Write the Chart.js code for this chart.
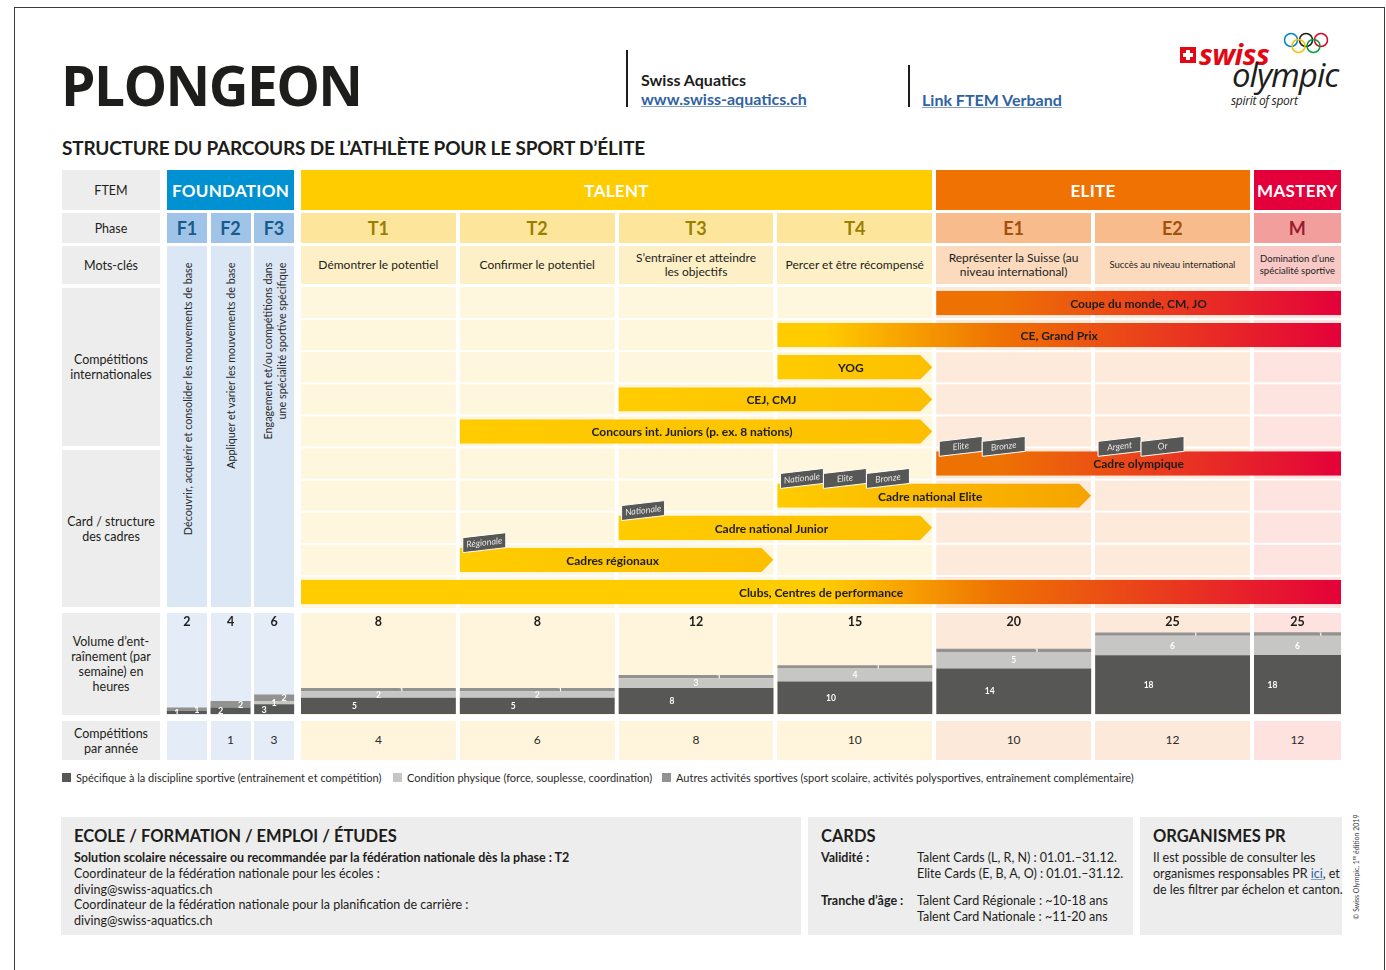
<!DOCTYPE html>
<html lang="fr">
<head>
<meta charset="utf-8">
<title>Plongeon – Structure du parcours de l’athlète</title>
<script src="https://cdn.jsdelivr.net/npm/chart.js@4.4.1/dist/chart.umd.min.js"></script>
<style>
    html, body { margin: 0; padding: 0; background: #fff; }
    body { font-family: Lato, "Open Sans", sans-serif; color: #1d1d1b; }
    #page { position: relative; width: 1386px; height: 970px; overflow: hidden; }
    .abs { position: absolute; box-sizing: border-box; }
    .cell { display: flex; align-items: center; justify-content: center; text-align: center; line-height: 1.2; }
    .narrow { font-family: "Liberation Sans Narrow", Lato, sans-serif; }
    canvas { position: absolute; }
    a { color: #2f62a3; text-decoration: underline; text-decoration-color: #7f9fcc; }
</style>
</head>
<body>
<div id="page">
    <div class="abs" style="left:14px;top:7px;width:1371px;height:990px;border:1px solid #3c3c3b;"></div>

    <div class="abs" style="left:61px;top:54px;height:60px;font:700 55px 'Open Sans';letter-spacing:-1.6px;display:flex;align-items:center;">PLONGEON</div>

    <div class="abs" style="left:626px;top:50px;width:2px;height:57px;background:#1d1d1b;"></div>
    <div class="abs" style="left:641px;top:70px;font:700 16px Lato;">Swiss Aquatics</div>
    <div class="abs" style="left:641px;top:89px;font:700 16px Lato;"><a>www.swiss-aquatics.ch</a></div>
    <div class="abs" style="left:908px;top:65px;width:2px;height:42px;background:#1d1d1b;"></div>
    <div class="abs" style="left:922px;top:90px;font:700 16px Lato;"><a>Link FTEM Verband</a></div>

    <!-- logo -->
    <div class="abs" style="left:1180px;top:47px;width:16px;height:16px;background:#e30613;"></div>
    <div class="abs" style="left:1186px;top:50px;width:4px;height:10px;background:#fff;"></div>
    <div class="abs" style="left:1183px;top:53px;width:10px;height:4px;background:#fff;"></div>
    <div class="abs" style="left:1199px;top:34px;font:italic 700 29px 'Open Sans';color:#e30613;letter-spacing:-0.5px;">swiss</div>
    <svg class="abs" style="left:1282px;top:31px;" width="48" height="24" viewBox="0 0 48 24">
        <circle cx="9" cy="9" r="6.5" fill="none" stroke="#0085c7" stroke-width="1.5"/>
        <circle cx="24" cy="9" r="6.5" fill="none" stroke="#1d1d1b" stroke-width="1.5"/>
        <circle cx="39" cy="9" r="6.5" fill="none" stroke="#df0024" stroke-width="1.5"/>
        <circle cx="16.5" cy="15" r="6.5" fill="none" stroke="#f4c300" stroke-width="1.5"/>
        <circle cx="31.5" cy="15" r="6.5" fill="none" stroke="#009f3d" stroke-width="1.5"/>
    </svg>
    <div class="abs" style="left:1232px;top:52px;font:italic 400 33px 'Open Sans';letter-spacing:-1px;">olympic</div>
    <div class="abs" style="left:1231px;top:92px;font:italic 400 12px 'Open Sans';letter-spacing:-0.3px;">spirit of sport</div>

    <div class="abs" style="left:62px;top:136px;font:700 19px Lato;letter-spacing:-0.2px;">STRUCTURE DU PARCOURS DE L’ATHLÈTE POUR LE SPORT D’ÉLITE</div>
</div>

<script>
// ---------- data ----------
const phases = ['F1', 'F2', 'F3', 'T1', 'T2', 'T3', 'T4', 'E1', 'E2', 'M'];
const stageNames = ['FOUNDATION', 'TALENT', 'ELITE', 'MASTERY'];
const foundationText = [
    'Découvrir, acquérir et consolider les mouvements de base',
    'Appliquer et varier les mouvements de base',
    'Engagement et/ou compétitions dans<br>une spécialité sportive spécifique'
];
const keywords = [
    'Démontrer le potentiel',
    'Confirmer le potentiel',
    'S’entraîner et atteindre<br>les objectifs',
    'Percer et être récompensé',
    'Représenter la Suisse (au<br>niveau international)',
    'Succès au niveau international',
    'Domination d’une<br>spécialité sportive'
];
// training hours per week, by component
const hoursSpecific = [1, 2, 3, 5, 5, 8, 10, 14, 18, 18];
const hoursPhysical = [0, 0, 1, 2, 2, 3, 4, 5, 6, 6];
const hoursOther = [1, 2, 2, 1, 1, 1, 1, 1, 1, 1];
const hoursTotal = [2, 4, 6, 8, 8, 12, 15, 20, 25, 25];
const competitionsPerYear = ['', 1, 3, 4, 6, 8, 10, 10, 12, 12];
const seriesLabels = [
    'Spécifique à la discipline sportive (entraînement et compétition)',
    'Condition physique (force, souplesse, coordination)',
    'Autres activités sportives (sport scolaire, activités polysportives, entraînement complémentaire)'
];
// competitions and squads: first and last phase of each bar
const pathwayRows = [
    'Coupe du monde, CM, JO',
    'CE, Grand Prix',
    'YOG',
    'CEJ, CMJ',
    'Concours int. Juniors (p. ex. 8 nations)',
    'Cadre olympique',
    'Cadre national Elite',
    'Cadre national Junior',
    'Cadres régionaux',
    'Clubs, Centres de performance'
];
const pathwayFrom = ['E1', 'T4', 'T4', 'T3', 'T2', 'E1', 'T4', 'T3', 'T2', 'T1'];
const pathwayTo = ['M', 'M', 'T4', 'T4', 'T4', 'M', 'E1', 'T4', 'T3', 'M'];
const cardTags = [
    { row: 'Cadre olympique', phase: 'E1', tags: ['Elite', 'Bronze'] },
    { row: 'Cadre olympique', phase: 'E2', tags: ['Argent', 'Or'] },
    { row: 'Cadre national Elite', phase: 'T4', tags: ['Nationale', 'Elite', 'Bronze'] },
    { row: 'Cadre national Junior', phase: 'T3', tags: ['Nationale'] },
    { row: 'Cadres régionaux', phase: 'T2', tags: ['Régionale'] }
];

// ---------- layout / colours ----------
const palette = {
    F: { head: '#0091d2', phase: '#a0c4e8', phaseText: '#175b8d', key: '#dce7f5', body: '#dce7f5', vol: '#e4ecf8' },
    T: { head: '#ffcc00', phase: '#fde69c', phaseText: '#988000', key: '#fef0c6', body: '#fff6de', vol: '#fff5dd' },
    E: { head: '#ef7203', phase: '#f8bc8c', phaseText: '#a2500e', key: '#fcdabe', body: '#fdeadb', vol: '#fde9da' },
    M: { head: '#e4003b', phase: '#f29e9c', phaseText: '#9b1b2d', key: '#f8c8c5', body: '#fde4e1', vol: '#fde2e0' }
};
const seriesColors = ['#575756', '#c6c6c5', '#929291'];
const YELLOW = '#ffcc00', ORANGE = '#ee7203', RED = '#e4003a';

const X0 = 299, UNIT = 158.8;
const temPhases = phases.slice(3);
const temSpan = [1, 1, 1, 1, 1, 1, 0.574];
const unitOf = {};
let acc = 0;
temPhases.forEach((p, k) => { unitOf[p] = [acc, acc + temSpan[k]]; acc += temSpan[k]; });
const totalUnits = acc;
const fLeft = [167, 210.5, 254], F_W = 40;
const stageCols = [[0, 2], [3, 6], [7, 8], [9, 9]];

function colBox(i) {
    if (i < 3) return { left: fLeft[i], width: F_W };
    const [a, b] = unitOf[phases[i]];
    return { left: X0 + a * UNIT + 2, width: (b - a) * UNIT - 4 };
}

const page = document.getElementById('page');
function addBox(left, top, width, height, html, css) {
    const d = document.createElement('div');
    d.className = 'abs cell';
    Object.assign(d.style, { left: left + 'px', top: top + 'px', width: width + 'px', height: height + 'px' }, css || {});
    d.innerHTML = html;
    page.appendChild(d);
    return d;
}

// left label column
const grey = { background: '#ededed', fontSize: '12.5px' };
addBox(62, 170, 98, 40, 'FTEM', grey);
addBox(62, 213, 98, 30, 'Phase', grey);
addBox(62, 246, 98, 38, 'Mots-clés', grey);
addBox(62, 288, 98, 158, 'Compétitions<br>internationales', grey);
addBox(62, 450, 98, 157, 'Card / structure<br>des cadres', grey);
addBox(62, 613, 98, 102, 'Volume d’ent-<br>raînement (par<br>semaine) en<br>heures', Object.assign({ lineHeight: '15px' }, grey));
addBox(62, 721, 98, 39, 'Compétitions<br>par année', Object.assign({ lineHeight: '15px' }, grey));

// stage headers
stageCols.forEach(([a, b], s) => {
    const l = colBox(a).left, r = colBox(b).left + colBox(b).width;
    addBox(l, 170, r - l, 40, stageNames[s], {
        background: palette[phases[a][0]].head, color: '#fff', font: '700 17px Lato', letterSpacing: '0.3px'
    });
});

// phase, keyword and per-year cells
phases.forEach((p, i) => {
    const c = colBox(i), pal = palette[p[0]];
    addBox(c.left, 213, c.width, 30, p, { background: pal.phase, color: pal.phaseText, font: '700 18px Lato' });
    if (i < 3) {
        const cell = addBox(c.left, 246, c.width, 361, '', { background: pal.body });
        const inner = document.createElement('div');
        Object.assign(inner.style, {
            position: 'absolute', width: '361px', height: c.width + 'px',
            left: (c.width - 361) / 2 + 'px', top: (361 - c.width) / 2 + 'px',
            transform: 'rotate(-90deg)', display: 'flex', alignItems: 'center',
            justifyContent: 'flex-end', textAlign: 'right', paddingRight: '16px',
            boxSizing: 'border-box', fontSize: '10.8px', lineHeight: '14px', color: '#2b2b2a'
        });
        inner.innerHTML = foundationText[i];
        cell.appendChild(inner);
    } else {
        const small = p === 'E2' || p === 'M';
        addBox(c.left, 246, c.width, 38, keywords[i - 3], {
            background: pal.key, fontSize: small ? '9.5px' : '12px', lineHeight: small ? '12px' : '14px'
        });
    }
    addBox(c.left, 613, c.width, 102, '', { background: pal.vol });
    addBox(c.left, 721, c.width, 39, String(competitionsPerYear[i]), { background: pal.vol, fontSize: '12px', color: '#2b2b2a' });
});

// legend
const legendX = [62, 393, 662];
seriesLabels.forEach((t, k) => {
    addBox(legendX[k], 773, 9, 9, '', { background: seriesColors[k] });
    const d = addBox(legendX[k] + 14, 770, 600, 16, t, { justifyContent: 'flex-start', fontSize: '11px', color: '#2b2b2a', whiteSpace: 'nowrap', width: 'auto' });
    d.classList.add('narrow');
});

// bottom boxes
addBox(61, 817, 740, 118, '', { background: '#ededed' });
addBox(808, 817, 325, 118, '', { background: '#ededed' });
addBox(1140, 817, 202, 118, '', { background: '#ededed' });
function line(x, y, html, css) {
    const d = addBox(x, y - 9, 0, 18, '<span>' + html + '</span>', Object.assign({ justifyContent: 'flex-start', whiteSpace: 'nowrap', width: 'auto', fontSize: '12.5px' }, css || {}));
    d.classList.add('narrow');
    return d;
}
const head = { font: '700 16.5px Lato', fontFamily: 'Lato' };
line(74, 836, 'ECOLE / FORMATION / EMPLOI / ÉTUDES', head).classList.remove('narrow');
line(74, 857, 'Solution scolaire nécessaire ou recommandée par la fédération nationale dès la phase : T2', { fontWeight: '700' });
line(74, 873, 'Coordinateur de la fédération nationale pour les écoles :');
line(74, 889, 'diving@swiss-aquatics.ch');
line(74, 904, 'Coordinateur de la fédération nationale pour la planification de carrière :');
line(74, 920, 'diving@swiss-aquatics.ch');
line(821, 836, 'CARDS', head).classList.remove('narrow');
line(821, 857, 'Validité :', { fontWeight: '700' });
line(917, 857, 'Talent Cards (L, R, N) : 01.01.–31.12.');
line(917, 873, 'Elite Cards (E, B, A, O) : 01.01.–31.12.');
line(821, 900, 'Tranche d’âge :', { fontWeight: '700' });
line(917, 900, 'Talent Card Régionale : ~10-18 ans');
line(917, 916, 'Talent Card Nationale : ~11-20 ans');
line(1153, 836, 'ORGANISMES PR', head).classList.remove('narrow');
line(1153, 857, 'Il est possible de consulter les');
line(1153, 873, 'organismes responsables PR <a>ici</a>, et');
line(1153, 889, 'de les filtrer par échelon et canton.');
addBox(1294, 862, 124, 10, '<span>© Swiss Olympic, 1<sup style="font-size:5px">re</sup> édition 2019</span>', {
    transform: 'rotate(-90deg)', fontSize: '7px', color: '#3c3c3b', whiteSpace: 'nowrap'
});

// ---------- charts ----------
function makeCanvas(left, top, width, height) {
    const c = document.createElement('canvas');
    c.width = Math.round(width);
    c.height = height;
    c.style.left = left + 'px';
    c.style.top = top + 'px';
    page.appendChild(c);
    return c;
}

function pathwayFill(context) {
    const chart = context.chart;
    if (!chart.chartArea || !context.raw) return YELLOW;
    const xs = chart.scales.x;
    const [s, e] = context.raw;
    const g = chart.ctx.createLinearGradient(xs.getPixelForValue(s), 0, xs.getPixelForValue(e), 0);
    const pos = u => Math.min(1, Math.max(0, (u - s) / (e - s)));
    const eliteStart = unitOf.E1[0], masteryStart = unitOf.M[0];
    if (e > masteryStart) {
        if (s < eliteStart) {
            g.addColorStop(0, YELLOW);
            g.addColorStop(pos(eliteStart - 0.7), YELLOW);
        }
        g.addColorStop(pos(eliteStart + 0.4), ORANGE);
        g.addColorStop(1, RED);
    } else {
        g.addColorStop(0, YELLOW);
        g.addColorStop(1, e > eliteStart ? '#f5a300' : '#fcbf00');
    }
    return g;
}

function drawTag(ctx, x, baseY, w, text) {
    const h = 15, slant = 5;
    ctx.beginPath();
    ctx.moveTo(x, baseY);
    ctx.lineTo(x + w, baseY - slant);
    ctx.lineTo(x + w, baseY - slant - h);
    ctx.lineTo(x, baseY - h);
    ctx.closePath();
    ctx.fillStyle = '#575756';
    ctx.fill();
    ctx.strokeStyle = '#ffffff';
    ctx.lineWidth = 1;
    ctx.stroke();
    ctx.save();
    ctx.translate(x + w / 2, baseY - h / 2 - slant / 2);
    ctx.rotate(Math.atan2(-slant, w));
    ctx.font = 'italic 9px Lato';
    ctx.fillStyle = '#e6e6e6';
    ctx.textAlign = 'center';
    ctx.textBaseline = 'middle';
    ctx.fillText(text, 0, 0);
    ctx.restore();
}

const pathwayDecor = {
    id: 'pathwayDecor',
    beforeDatasetsDraw(chart) {
        const { ctx, chartArea: a, scales: { x, y } } = chart;
        ctx.save();
        temPhases.forEach(p => {
            const [u0, u1] = unitOf[p];
            const l = Math.max(a.left, x.getPixelForValue(u0) + 2);
            const r = Math.min(a.right, x.getPixelForValue(u1) - 2);
            ctx.fillStyle = palette[p[0]].body;
            ctx.fillRect(l, a.top, r - l, a.bottom - a.top);
        });
        ctx.fillStyle = '#ffffff';
        for (let i = 1; i < pathwayRows.length; i++) {
            const yy = (y.getPixelForValue(i - 1) + y.getPixelForValue(i)) / 2;
            ctx.fillRect(a.left, yy - 1, a.right - a.left, 2);
        }
        ctx.restore();

        // bars that stop before Mastery end as arrows
        ctx.save();
        ctx.beginPath();
        chart.getDatasetMeta(0).data.forEach((bar, i) => {
            const top = bar.y - bar.height / 2, bottom = bar.y + bar.height / 2;
            const l = bar.base + 2, r = bar.x - 2;
            if (pathwayTo[i] === 'M') {
                ctx.rect(l, top, r - l, bottom - top);
            } else {
                ctx.moveTo(l, top);
                ctx.lineTo(r - 12, top);
                ctx.lineTo(r, bar.y);
                ctx.lineTo(r - 12, bottom);
                ctx.lineTo(l, bottom);
                ctx.closePath();
            }
        });
        ctx.clip();
    },
    afterDatasetsDraw(chart) {
        const { ctx, chartArea: a, scales: { x } } = chart;
        ctx.restore();
        const meta = chart.getDatasetMeta(0);
        ctx.save();
        ctx.font = 'bold 12px Lato';
        ctx.fillStyle = '#1d1d1b';
        ctx.textAlign = 'center';
        ctx.textBaseline = 'middle';
        meta.data.forEach((bar, i) => {
            const l = Math.max(a.left, bar.base + 2), r = Math.min(a.right, bar.x - 2);
            const cx = pathwayTo[i] === 'M' ? (l + r) / 2 : (l + r - 8) / 2;
            ctx.fillText(pathwayRows[i], cx, bar.y + 1);
        });
        cardTags.forEach(g => {
            const bar = meta.data[pathwayRows.indexOf(g.row)];
            const baseY = bar.y - bar.height / 2 + 5;
            let tx = x.getPixelForValue(unitOf[g.phase][0]) + 5;
            g.tags.forEach(t => { drawTag(ctx, tx, baseY, 43, t); tx += 43; });
        });
        ctx.restore();
    }
};

const volumeLabels = {
    id: 'volumeLabels',
    afterDatasetsDraw(chart, args, opts) {
        const ctx = chart.ctx;
        ctx.save();
        ctx.textAlign = 'center';
        ctx.textBaseline = 'middle';
        chart.data.datasets.forEach((ds, k) => {
            chart.getDatasetMeta(k).data.forEach((bar, j) => {
                const v = ds.data[j];
                if (!v) return;
                ctx.save();
                if (opts.clip) {
                    ctx.beginPath();
                    ctx.rect(bar.x - bar.width / 2, bar.y, bar.width, bar.base - bar.y);
                    ctx.clip();
                }
                ctx.font = 'bold ' + opts.size + 'px Lato';
                ctx.fillStyle = '#ffffff';
                ctx.fillText(String(v), bar.x + opts.offsets[k], (bar.y + bar.base) / 2 + 0.5);
                ctx.restore();
            });
        });
        ctx.font = 'bold 12.5px Lato';
        ctx.fillStyle = '#1d1d1b';
        chart.getDatasetMeta(0).data.forEach((bar, j) => {
            ctx.fillText(String(opts.totals[j]), bar.x, chart.chartArea.top + 9);
        });
        ctx.restore();
    }
};

function volumeChart(from, to, left, width, pct, offsets, clip, size) {
    const canvas = makeCanvas(left, 613, width, 101);
    const series = [hoursSpecific, hoursPhysical, hoursOther];
    new Chart(canvas, {
        type: 'bar',
        data: {
            labels: phases.slice(from, to),
            datasets: series.map((s, k) => ({
                label: seriesLabels[k],
                data: s.slice(from, to),
                backgroundColor: seriesColors[k],
                borderWidth: 0,
                barPercentage: pct,
                categoryPercentage: 1
            }))
        },
        options: {
            responsive: false,
            animation: false,
            layout: { padding: 0 },
            scales: {
                x: { display: false, stacked: true },
                y: { display: false, stacked: true, min: 0, max: 31 }
            },
            plugins: {
                legend: { display: false },
                tooltip: { enabled: false },
                volumeLabels: { offsets, clip, size, totals: hoursTotal.slice(from, to) }
            }
        },
        plugins: [volumeLabels]
    });
}

function build() {
    const gantt = makeCanvas(301, 287, 1040, 321);
    new Chart(gantt, {
        type: 'bar',
        data: {
            labels: pathwayRows,
            datasets: [{
                data: pathwayRows.map((_, i) => [unitOf[pathwayFrom[i]][0], unitOf[pathwayTo[i]][1]]),
                backgroundColor: pathwayFill,
                borderWidth: 0,
                barPercentage: 0.76,
                categoryPercentage: 1
            }]
        },
        options: {
            indexAxis: 'y',
            responsive: false,
            animation: false,
            layout: { padding: 0 },
            scales: {
                x: { type: 'linear', display: false, min: 2 / UNIT, max: totalUnits - 2 / UNIT },
                y: { display: false }
            },
            plugins: { legend: { display: false }, tooltip: { enabled: false } }
        },
        plugins: [pathwayDecor]
    });

    volumeChart(0, 3, 165, 131, F_W / (131 / 3), [-10, 0, 10], false, 9);
    volumeChart(3, 9, X0, 6 * UNIT, (UNIT - 4) / UNIT, [-24, 0, 23], true, 8.5);
    const m = colBox(9);
    volumeChart(9, 10, m.left, m.width, 1, [-25, 0, 23], true, 8.5);
}

document.addEventListener('DOMContentLoaded', () => {
    document.fonts.ready.then(build);
});
</script>
</body>
</html>
